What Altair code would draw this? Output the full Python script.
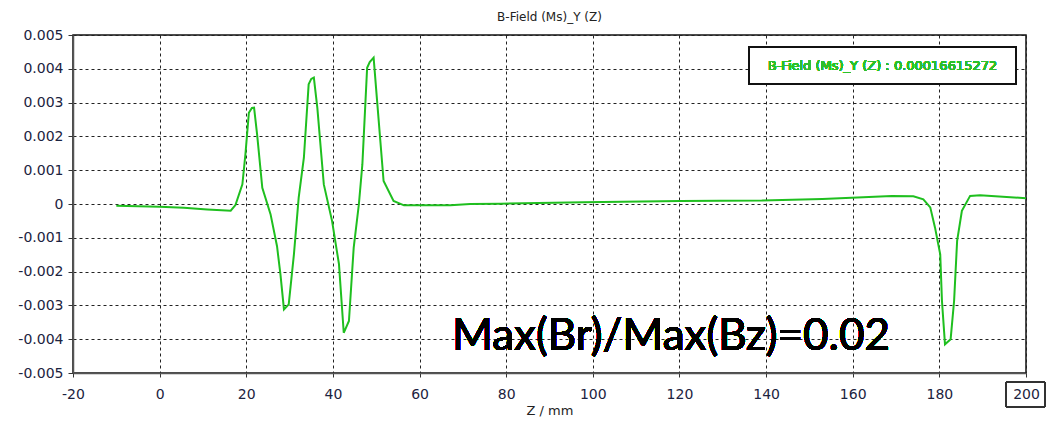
import altair as alt
import pandas as pd

# Z position (mm) and B-field Y component (T)
z_mm = [-10, 0, 5.6, 11, 16.4, 17.5, 19.1, 19.8, 20.6, 21.3, 21.8, 22.5, 23.7, 25.6,
        27.1, 27.9, 28.7, 29.8, 31.0, 32.1, 33.3, 34.4, 35.0, 35.6, 36.4, 37.9,
        39.8, 41.4, 42.5, 43.7, 44.8, 46.0, 46.8, 47.9, 48.5, 49.4, 50.2, 51.7,
        54.0, 56.4, 67.1, 71.7, 78.7, 97.8, 120.2, 139, 153, 162.4, 169, 174,
        176.3, 177.9, 179, 180.2, 180.6, 181.3, 182.6, 183.4, 184.1, 185.2,
        187.1, 189.4, 200]
b_y = [-0.00005, -0.00008, -0.00011, -0.00016, -0.0002, -0.00003, 0.00058, 0.00147,
       0.0027, 0.00284, 0.00285, 0.00206, 0.00048, -0.0003,
       -0.00125, -0.0021, -0.00312, -0.00297, -0.00149, 0.00019, 0.00137, 0.00354,
       0.0037, 0.00374, 0.00285, 0.00058,
       -0.0005, -0.00178, -0.00381, -0.00346, -0.00129, 0.0, 0.00117, 0.00403,
       0.0042, 0.00433, 0.00305, 0.00068,
       0.00009, -0.00004, -0.00004, 0.0, 0.00001, 0.00005, 0.00009, 0.0001,
       0.00015, 0.0002, 0.00024, 0.00023,
       0.00014, -0.0001, -0.0007, -0.00149, -0.00287, -0.00415, -0.004, -0.00287,
       -0.00109, -0.0002,
       0.00024, 0.00026, 0.00017]

x_ticks = [-20, 0, 20, 40, 60, 80, 100, 120, 140, 160, 180, 200]
y_ticks = [-0.005, -0.004, -0.003, -0.002, -0.001, 0, 0.001, 0.002, 0.003, 0.004, 0.005]

title_text = "B-Field (Ms)_Y (Z)"
legend_text = "B-Field (Ms)_Y (Z) : 0.00016615272"
note_text = "Max(Br)/Max(Bz)=0.02"
x_title = "Z / mm"

GREEN = "#1fbf1f"
TICK_COLOR = "#1c2340"
FONT = "DejaVu Sans"

df = pd.DataFrame({"z": z_mm, "b": b_y})

x_enc = alt.X("z:Q", scale=alt.Scale(domain=[-20, 200], nice=False, zero=False),
              axis=alt.Axis(values=x_ticks, title=x_title, labelExpr="'' + datum.value",
                            labelFlush=False, labelOverlap=False,
                            grid=True, gridDash=[3, 3], gridColor="#222222",
                            tickSize=4, labelPadding=10, titlePadding=3))
y_enc = alt.Y("b:Q", scale=alt.Scale(domain=[-0.005, 0.005], nice=False, zero=False),
              axis=alt.Axis(values=y_ticks, title=None, labelOverlap=False,
                            labelExpr="abs(datum.value) < 1e-9 ? '0' : (datum.value < 0 ? '-' : '') + format(abs(datum.value), '.3f')",
                            grid=True, gridDash=[3, 3], gridColor="#222222",
                            tickSize=5, labelPadding=5))

line = alt.Chart(df).mark_line(color=GREEN, strokeWidth=2, clip=True).encode(x=x_enc, y=y_enc)

legend_box = alt.Chart(df).mark_rect(fill="white", stroke="#111111", strokeWidth=2).encode(
    x=alt.value(676), x2=alt.value(943), y=alt.value(12), y2=alt.value(49))
legend_label = alt.Chart(df).mark_text(color="#2cbf2c", fontSize=13, font=FONT, fontWeight="normal",
                                       align="center", baseline="middle").encode(
    x=alt.value(809.5), y=alt.value(30.5), text=alt.value(legend_text))

note = alt.Chart(df).mark_text(color="black", fontSize=44, font="Lato, Liberation Sans",
                               align="left", baseline="alphabetic").encode(
    x=alt.value(379), y=alt.value(315), text=alt.value(note_text))

box200 = alt.Chart(df).mark_rect(fillOpacity=0, stroke="#333333", strokeWidth=1).encode(
    x=alt.value(933), x2=alt.value(972), y=alt.value(347), y2=alt.value(372))

chart = alt.layer(line, legend_box, legend_label, note, box200).properties(
    width=953, height=338,
    title=alt.TitleParams(text=title_text, fontSize=12, font=FONT, fontWeight="normal",
                          color="#222222", anchor="middle", offset=4),
    padding={"left": 65, "top": 27, "right": 21, "bottom": 46},
    autosize=alt.AutoSizeParams(type="none"),
).configure_view(stroke="#111111", strokeWidth=1.5).configure_axis(
    labelFont=FONT, labelFontSize=14, labelColor=TICK_COLOR,
    titleFont=FONT, titleFontSize=13, titleFontWeight="normal", titleColor="#222222",
    domainColor="#555555", domainWidth=1.5, tickColor="#333333",
)

chart.save("out.html", embed_options={"renderer": "svg", "actions": False})
